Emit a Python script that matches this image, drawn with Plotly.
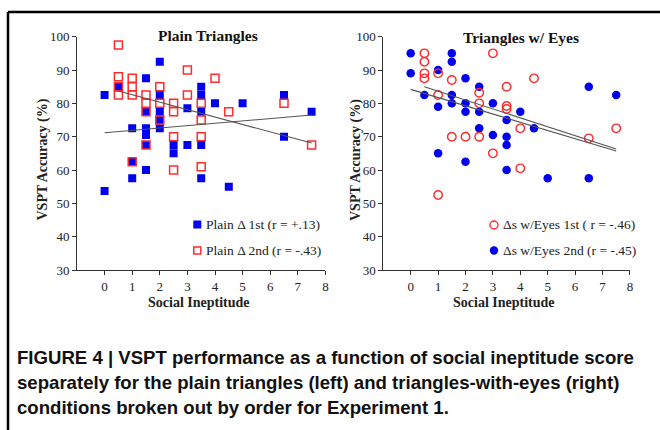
import plotly.graph_objects as go

W, H = 660, 430

# ---------------- data ----------------
plain1_x = [0, 2, 1.5, 0.5, 3.5, 3.5, 2, 6.5, 4, 5, 3, 3.5, 7.5, 1.5, 2, 2, 1, 1.5, 2, 1.5,
            6.5, 1.5, 2.5, 3, 3.5, 2.5, 1, 1.5, 1, 3.5, 0, 4.5]
plain1_y = [82.5, 92.5, 87.5, 85, 85, 82.5, 82.5, 82.5, 80, 80, 78.5, 77.5, 77.5, 77.5, 77.5, 75,
            72.5, 72.5, 72.5, 70.5, 70, 67.5, 67.5, 67.5, 67.5, 65, 62.5, 60, 57.5, 57.5, 53.7, 55]

plain2_x = [0.5, 3, 0.5, 1, 4, 0.5, 1, 0.5, 1, 2, 1.5, 3, 1.5, 2, 2.5, 3.5, 6.5, 1.5, 2.5, 4.5,
            3.5, 2, 2.5, 3.5, 1.5, 7.5, 1, 2.5, 3.5]
plain2_y = [97.5, 90, 88, 87.5, 87.5, 85, 85, 82.5, 82.5, 85, 82.5, 82.5, 80, 80, 80, 80, 80,
            77.5, 77.5, 77.5, 75, 75, 70, 70, 67.5, 67.5, 62.5, 60, 61]

eyes2_x = [0, 1.5, 1.5, 0, 1, 2, 2.5, 6.5, 7.5, 0.5, 1.5, 1.5, 1, 2, 2, 2.5, 3, 3.5, 4, 4.5,
           2.5, 3, 3.5, 3.5, 1, 2, 3.5, 5, 6.5]
eyes2_y = [95, 95, 92.5, 89, 90, 87.5, 85, 85, 82.5, 82.5, 82.5, 80, 79, 80, 77.5, 77.5, 80, 75,
           77.5, 72.5, 72.5, 70.5, 70, 67.5, 65, 62.5, 60, 57.5, 57.5]

eyes1_x = [0.5, 3, 0.5, 0.5, 0.5, 1, 1.5, 4.5, 3.5, 2.5, 1, 2.5, 3.5, 3.5, 4, 7.5, 6.5, 1.5, 2,
           2.5, 3, 4, 1]
eyes1_y = [95, 95, 92.5, 89, 87.5, 89, 87, 87.5, 85, 83.2, 82.5, 80, 79.2, 78.3, 72.5, 72.5, 69.5,
           70, 70, 70, 65, 60.5, 52.5]

# regression lines (endpoints)
plain1_fit_x = [0, 7.5]
plain1_fit_y = [71.2, 76.5]
plain2_fit_x = [0.5, 7.5]
plain2_fit_y = [83.7, 68.1]
eyes1_fit_x = [0.5, 7.5]
eyes1_fit_y = [85.0, 66.3]
eyes2_fit_x = [0, 7.5]
eyes2_fit_y = [84.2, 65.7]

x_ticks = [0, 1, 2, 3, 4, 5, 6, 7, 8]
y_ticks = [30, 40, 50, 60, 70, 80, 90, 100]

titles = ["Plain Triangles", "Triangles w/ Eyes"]
x_title = "Social Ineptitude"
y_title = "VSPT Accuracy (%)"
legend_left = ["Plain \u0394 1st (r = +.13)", "Plain \u0394 2nd (r = -.43)"]
legend_right = ["\u0394s w/Eyes 1st ( r = -.46)", "\u0394s w/Eyes 2nd (r = -.45)"]
caption = [
    "FIGURE 4 | VSPT performance as a function of social ineptitude score",
    "separately for the plain triangles (left) and triangles-with-eyes (right)",
    "conditions broken out by order for Experiment 1.",
]

# ---------------- style ----------------
BLUE = "#0000ee"
RED = "#ff2b2b"
LINE = "#555555"
SERIF = "Liberation Serif, Times New Roman, serif"
SANS = "Liberation Sans, Arial, sans-serif"


def px(x):
    return x / W


def py(y):
    return 1 - y / H


fig = go.Figure()

# left panel
fig.add_trace(go.Scatter(x=plain1_x, y=plain1_y, mode="markers", xaxis="x", yaxis="y",
                         marker=dict(symbol="square", size=8, color=BLUE, line=dict(width=0)),
                         name=legend_left[0], showlegend=False))
fig.add_trace(go.Scatter(x=plain2_x, y=plain2_y, mode="markers", xaxis="x", yaxis="y",
                         marker=dict(symbol="square-open", size=8, color=RED, line=dict(width=1.5, color=RED)),
                         name=legend_left[1], showlegend=False))
fig.add_trace(go.Scatter(x=plain1_fit_x, y=plain1_fit_y, mode="lines", xaxis="x", yaxis="y",
                         line=dict(color=LINE, width=1.1), showlegend=False, hoverinfo="skip"))
fig.add_trace(go.Scatter(x=plain2_fit_x, y=plain2_fit_y, mode="lines", xaxis="x", yaxis="y",
                         line=dict(color=LINE, width=1.1), showlegend=False, hoverinfo="skip"))

# right panel
fig.add_trace(go.Scatter(x=eyes2_x, y=eyes2_y, mode="markers", xaxis="x2", yaxis="y2",
                         marker=dict(symbol="circle", size=8.5, color=BLUE, line=dict(width=0)),
                         name=legend_right[1], showlegend=False))
fig.add_trace(go.Scatter(x=eyes1_x, y=eyes1_y, mode="markers", xaxis="x2", yaxis="y2",
                         marker=dict(symbol="circle-open", size=8.5, color=RED, line=dict(width=1.4, color=RED)),
                         name=legend_right[0], showlegend=False))
fig.add_trace(go.Scatter(x=eyes1_fit_x, y=eyes1_fit_y, mode="lines", xaxis="x2", yaxis="y2",
                         line=dict(color=LINE, width=1.1), showlegend=False, hoverinfo="skip"))
fig.add_trace(go.Scatter(x=eyes2_fit_x, y=eyes2_fit_y, mode="lines", xaxis="x2", yaxis="y2",
                         line=dict(color=LINE, width=1.1), showlegend=False, hoverinfo="skip"))

ydom = [py(270), py(36.7)]
axis_common = dict(showgrid=False, zeroline=False, showline=True, linecolor="#333333", linewidth=1,
                   ticks="outside", ticklen=4, tickwidth=1, tickcolor="#333333", automargin=False,
                   tickfont=dict(family=SERIF, size=13, color="#222222"), fixedrange=True)

fig.update_layout(
    template="none",
    width=W, height=H, autosize=False,
    margin=dict(l=0, r=0, t=0, b=0, pad=0),
    paper_bgcolor="white", plot_bgcolor="white",
    showlegend=False,
    xaxis=dict(domain=[px(77), px(325.4)], range=[-1, 8], tickvals=x_ticks, anchor="y", **axis_common),
    yaxis=dict(domain=ydom, range=[30, 100], tickvals=y_ticks, anchor="x", **axis_common),
    xaxis2=dict(domain=[px(383.3), px(629.9)], range=[-1, 8], tickvals=x_ticks, anchor="y2", **axis_common),
    yaxis2=dict(domain=ydom, range=[30, 100], tickvals=y_ticks, anchor="x2", **axis_common),
)

ann = []
# panel titles
ann.append(dict(text="<b>%s</b>" % titles[0], x=px(207.5), y=py(36), xanchor="center", yanchor="middle",
                font=dict(family=SERIF, size=15.5, color="#111111")))
ann.append(dict(text="<b>%s</b>" % titles[1], x=px(521), y=py(37), xanchor="center", yanchor="middle",
                font=dict(family=SERIF, size=15.5, color="#111111")))
# axis titles
for cx in (198.5, 504):
    ann.append(dict(text="<b>%s</b>" % x_title, x=px(cx), y=py(302), xanchor="center", yanchor="middle",
                    font=dict(family=SERIF, size=14, color="#222222")))
for cx in (42.5, 356):
    ann.append(dict(text="<b>%s</b>" % y_title, x=px(cx), y=py(160), xanchor="center", yanchor="middle",
                    textangle=-90, font=dict(family=SERIF, size=14, color="#222222")))
# legend texts
for i, t in enumerate(legend_left):
    ann.append(dict(text=t, x=px(203.5), y=py(224.5 + 26 * i), xanchor="left", yanchor="middle",
                    font=dict(family=SERIF, size=13.5, color="#222222")))
for i, t in enumerate(legend_right):
    ann.append(dict(text=t, x=px(501), y=py(224.5 + 26 * i), xanchor="left", yanchor="middle",
                    font=dict(family=SERIF, size=13.5, color="#222222")))
# caption
for i, t in enumerate(caption):
    ann.append(dict(text="<b>%s</b>" % t, x=px(15), y=py(357 + 25.3 * i), xanchor="left", yanchor="middle",
                    font=dict(family=SANS, size=18.6, color="#111111")))
for a in ann:
    a.update(xref="paper", yref="paper", showarrow=False)
fig.update_layout(annotations=ann)

shapes = []
# legend swatches
shapes.append(dict(type="rect", x0=px(193.3), x1=px(201.3), y0=py(220.5), y1=py(228.5),
                   fillcolor=BLUE, line=dict(width=0)))
shapes.append(dict(type="rect", x0=px(193.8), x1=px(200.8), y0=py(247), y1=py(254),
                   fillcolor="rgba(0,0,0,0)", line=dict(color=RED, width=1.5)))
shapes.append(dict(type="circle", x0=px(490), x1=px(498), y0=py(221), y1=py(229),
                   fillcolor="rgba(0,0,0,0)", line=dict(color=RED, width=1.4)))
shapes.append(dict(type="circle", x0=px(489.8), x1=px(498.2), y0=py(246.3), y1=py(254.7),
                   fillcolor=BLUE, line=dict(width=0)))
# outer frame
shapes.append(dict(type="line", x0=px(8), x1=1, y0=py(12), y1=py(12), line=dict(color="black", width=2.5)))
shapes.append(dict(type="line", x0=px(8), x1=px(8), y0=py(12), y1=0, line=dict(color="black", width=2.5)))
for s in shapes:
    s.update(xref="paper", yref="paper")
fig.update_layout(shapes=shapes)

fig.write_html("out.html", config={"displayModeBar": False, "staticPlot": True},
               post_script="document.body.style.margin='0';document.body.style.overflow='hidden';")
